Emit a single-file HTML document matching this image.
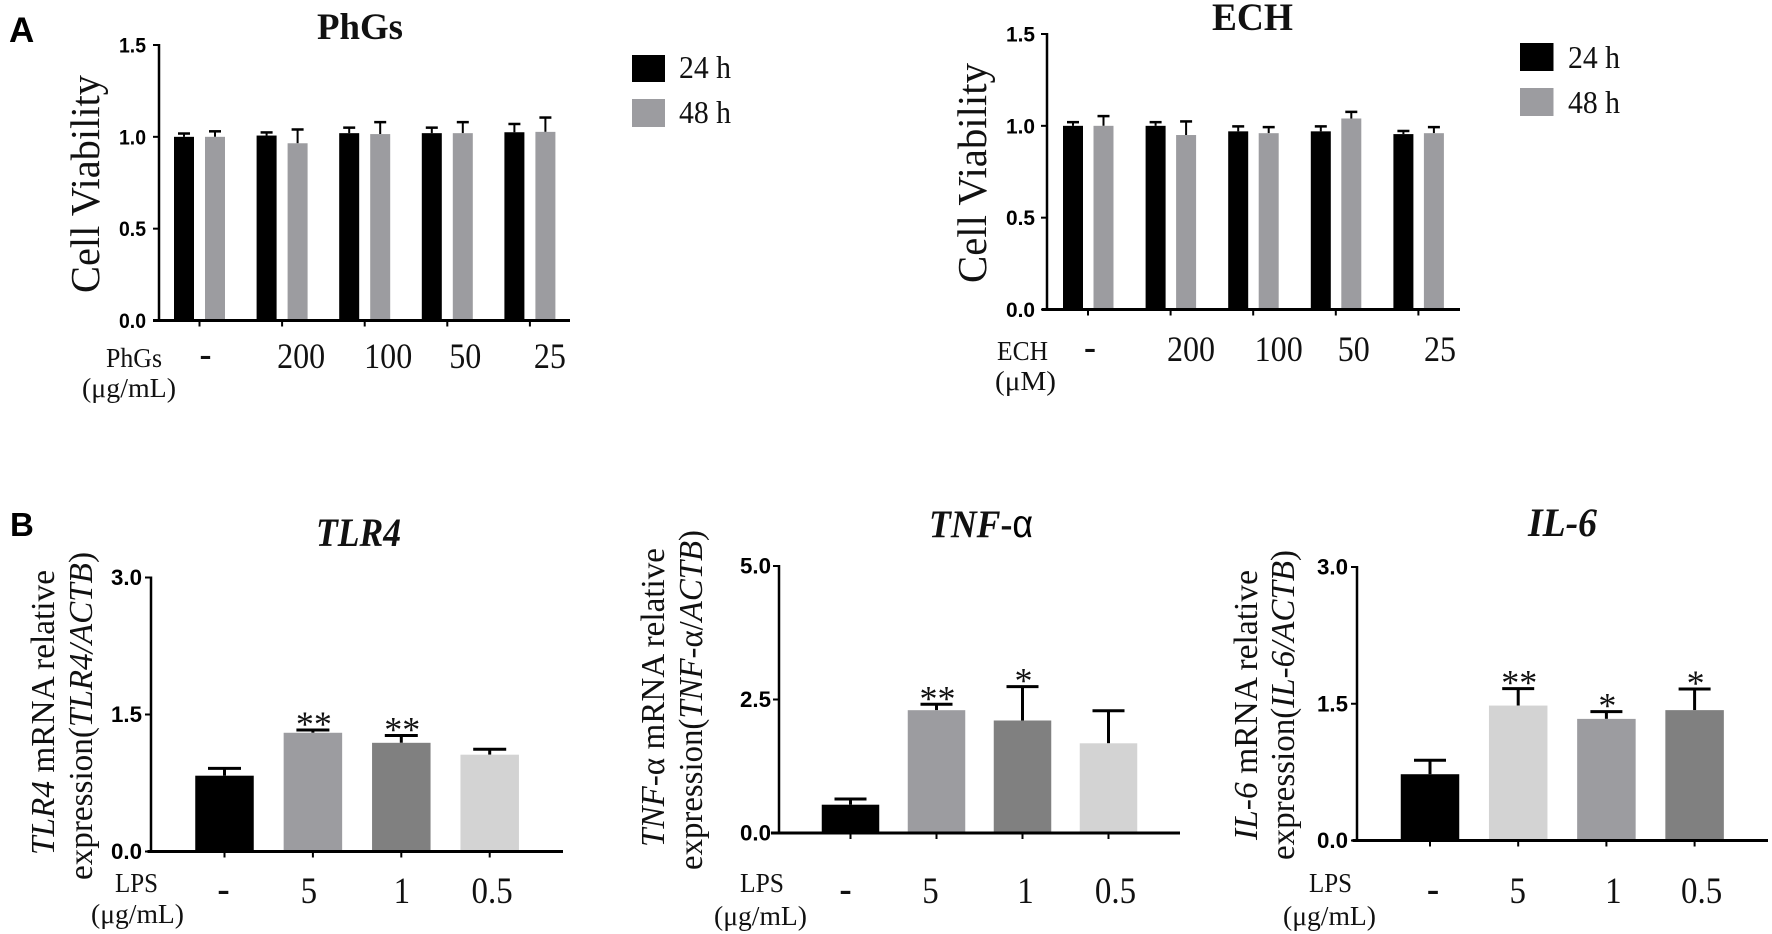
<!DOCTYPE html>
<html lang="en">
<head>
<meta charset="utf-8">
<title>Cell viability and mRNA expression charts</title>
<style>
html,body{margin:0;padding:0;background:#fff;width:1772px;height:934px;overflow:hidden}
svg{display:block}
.serif{font-family:"Liberation Serif","Noto Serif CJK SC",serif;fill:#111}
.sans{font-family:"Liberation Sans",sans-serif;fill:#000}
</style>
</head>
<body>
<svg id="figure" xmlns="http://www.w3.org/2000/svg" width="1772" height="934" viewBox="0 0 1772 934">
  <rect x="0" y="0" width="1772" height="934" fill="#fff"/>
  <text class="sans" x="9" y="42" font-size="35" font-weight="bold">A</text>
  <text class="sans" x="10" y="536" font-size="33" font-weight="bold">B</text>

  <text class="serif" x="317" y="39" font-size="37" font-weight="bold" textLength="86" lengthAdjust="spacingAndGlyphs">PhGs</text>
  <text class="serif" x="1212" y="30" font-size="39" font-weight="bold" textLength="81" lengthAdjust="spacingAndGlyphs">ECH</text>
  <text class="serif" x="316" y="546" font-size="40" font-weight="bold" font-style="italic" textLength="85" lengthAdjust="spacingAndGlyphs">TLR4</text>
  <text class="serif" x="929" y="537" font-size="39" font-weight="bold" textLength="104" lengthAdjust="spacingAndGlyphs"><tspan font-style="italic">TNF</tspan>-<tspan font-weight="normal" class="sans">α</tspan></text>
  <text class="serif" x="1528" y="536" font-size="40" font-weight="bold" font-style="italic" textLength="69" lengthAdjust="spacingAndGlyphs">IL-6</text>

  <text class="serif" transform="translate(99,293) rotate(-90)" font-size="41" textLength="218" lengthAdjust="spacingAndGlyphs">Cell Viability</text>
  <text class="serif" transform="translate(986,283) rotate(-90)" font-size="41" textLength="220" lengthAdjust="spacingAndGlyphs">Cell Viability</text>

  <text class="serif" transform="translate(54,855) rotate(-90)" font-size="34" textLength="285" lengthAdjust="spacingAndGlyphs"><tspan font-style="italic">TLR4</tspan> mRNA relative</text>
  <text class="serif" transform="translate(92,880) rotate(-90)" font-size="34" textLength="328" lengthAdjust="spacingAndGlyphs">expression(<tspan font-style="italic">TLR4/ACTB</tspan>)</text>
  <text class="serif" transform="translate(664,847) rotate(-90)" font-size="34" textLength="299" lengthAdjust="spacingAndGlyphs"><tspan font-style="italic">TNF</tspan>-α mRNA relative</text>
  <text class="serif" transform="translate(702,870) rotate(-90)" font-size="34" textLength="340" lengthAdjust="spacingAndGlyphs">expression(<tspan font-style="italic">TNF</tspan>-α/<tspan font-style="italic">ACTB</tspan>)</text>
  <text class="serif" transform="translate(1257,840) rotate(-90)" font-size="34" textLength="270" lengthAdjust="spacingAndGlyphs"><tspan font-style="italic">IL-6</tspan> mRNA relative</text>
  <text class="serif" transform="translate(1294,860) rotate(-90)" font-size="34" textLength="310" lengthAdjust="spacingAndGlyphs">expression(<tspan font-style="italic">IL-6/ACTB</tspan>)</text>

  <text class="serif" x="106" y="367" font-size="27" textLength="56" lengthAdjust="spacingAndGlyphs">PhGs</text>
  <text class="serif" x="82" y="397" font-size="27" textLength="94" lengthAdjust="spacingAndGlyphs">(μg/mL)</text>
  <text class="serif" x="997" y="360" font-size="27" textLength="51" lengthAdjust="spacingAndGlyphs">ECH</text>
  <text class="serif" x="995" y="390" font-size="27" textLength="61" lengthAdjust="spacingAndGlyphs">(μM)</text>
  <text class="serif" x="115" y="892" font-size="27" textLength="43" lengthAdjust="spacingAndGlyphs">LPS</text>
  <text class="serif" x="91" y="923" font-size="27" textLength="93" lengthAdjust="spacingAndGlyphs">(μg/mL)</text>
  <text class="serif" x="740" y="892" font-size="27" textLength="44" lengthAdjust="spacingAndGlyphs">LPS</text>
  <text class="serif" x="714" y="925" font-size="27" textLength="93" lengthAdjust="spacingAndGlyphs">(μg/mL)</text>
  <text class="serif" x="1309" y="892" font-size="27" textLength="43" lengthAdjust="spacingAndGlyphs">LPS</text>
  <text class="serif" x="1283" y="925" font-size="27" textLength="93" lengthAdjust="spacingAndGlyphs">(μg/mL)</text>

  <g>
    <rect x="632" y="55" width="33" height="27" fill="#000"/>
    <text class="serif" x="679" y="78" font-size="32" textLength="52" lengthAdjust="spacingAndGlyphs">24 h</text>
    <rect x="632" y="99" width="33" height="28" fill="#9c9ca0"/>
    <text class="serif" x="679" y="123" font-size="32" textLength="52" lengthAdjust="spacingAndGlyphs">48 h</text>
  </g>
  <g>
    <rect x="1520" y="43" width="33.5" height="28" fill="#000"/>
    <text class="serif" x="1568" y="68" font-size="32" textLength="52" lengthAdjust="spacingAndGlyphs">24 h</text>
    <rect x="1520" y="88" width="33.5" height="28" fill="#9c9ca0"/>
    <text class="serif" x="1568" y="113" font-size="32" textLength="52" lengthAdjust="spacingAndGlyphs">48 h</text>
  </g>
</svg>
<script>
// ---- Panel A: PhGs ----
const phgsCategories = ['-', '200', '100', '50', '25'];
const phgsMean24 = [1.00, 1.007, 1.02, 1.02, 1.025];
const phgsUpper24 = [1.018, 1.024, 1.05, 1.05, 1.07];
const phgsMean48 = [1.00, 0.965, 1.015, 1.02, 1.027];
const phgsUpper48 = [1.03, 1.04, 1.08, 1.08, 1.105];
const phgsTickValues = [0, 0.5, 1, 1.5];
const phgsTickLabels = ['0.0', '0.5', '1.0', '1.5'];

// ---- Panel A: ECH ----
const echCategories = ['-', '200', '100', '50', '25'];
const echMean24 = [1.00, 1.00, 0.97, 0.97, 0.955];
const echUpper24 = [1.02, 1.02, 0.997, 0.997, 0.972];
const echMean48 = [1.00, 0.95, 0.96, 1.04, 0.96];
const echUpper48 = [1.053, 1.024, 0.993, 1.076, 0.993];
const echTickValues = [0, 0.5, 1, 1.5];
const echTickLabels = ['0.0', '0.5', '1.0', '1.5'];

// ---- Panel B: TLR4 ----
const tlr4Categories = ['-', '5', '1', '0.5'];
const tlr4Mean = [0.83, 1.30, 1.19, 1.06];
const tlr4Upper = [0.91, 1.33, 1.27, 1.12];
const tlr4Stars = ['', '**', '**', ''];
const tlr4TickValues = [0, 1.5, 3];
const tlr4TickLabels = ['0.0', '1.5', '3.0'];

// ---- Panel B: TNF-alpha ----
const tnfCategories = ['-', '5', '1', '0.5'];
const tnfMean = [0.53, 2.30, 2.107, 1.68];
const tnfUpper = [0.636, 2.41, 2.74, 2.29];
const tnfStars = ['', '**', '*', ''];
const tnfTickValues = [0, 2.5, 5];
const tnfTickLabels = ['0.0', '2.5', '5.0'];

// ---- Panel B: IL-6 ----
const il6Categories = ['-', '5', '1', '0.5'];
const il6Mean = [0.727, 1.48, 1.334, 1.43];
const il6Upper = [0.88, 1.666, 1.414, 1.662];
const il6Stars = ['', '**', '*', '*'];
const il6TickValues = [0, 1.5, 3];
const il6TickLabels = ['0.0', '1.5', '3.0'];

const SVG_NS = 'http://www.w3.org/2000/svg';
const figure = document.getElementById('figure');

function makeNode(parent, tag, props) {
  const node = document.createElementNS(SVG_NS, tag);
  for (const key in props) node.setAttribute(key, props[key]);
  parent.appendChild(node);
  return node;
}

function makeYScale(cfg) {
  const top = cfg.tickValues[cfg.tickValues.length - 1];
  return function (value) { return cfg.y0 - (value / top) * (cfg.y0 - cfg.yTop); };
}

function makeXScale(cfg) {
  return function (index) { return cfg.firstTick + index * cfg.step; };
}

function drawBarsAndErrors(group, cfg, yScale, xScale, series) {
  series.forEach(function (s) {
    s.mean.forEach(function (value, i) {
      const cx = xScale(i) + s.offset;
      const topY = yScale(value);
      const upperY = yScale(s.upper[i]);
      const stem = makeNode(group, 'line', { x1: cx, x2: cx, y1: topY, y2: upperY, stroke: '#000', 'stroke-width': cfg.stemWidth });
      
      
      const cap = makeNode(group, 'line', { x1: cx - cfg.capWidth / 2, x2: cx + cfg.capWidth / 2, y1: upperY, y2: upperY, stroke: '#000', 'stroke-width': cfg.capThick });
      
      
      const color = Array.isArray(s.color) ? s.color[i] : s.color;
      const bar = makeNode(group, 'rect', { x: cx - cfg.barWidth / 2, y: topY, width: cfg.barWidth, height: cfg.y0 - topY, fill: color });
      
      
    });
  });
}

function drawAxes(group, cfg, yScale, xScale) {
  const yAxis = makeNode(group, 'line', { x1: cfg.axisX, x2: cfg.axisX, y1: cfg.yTop - 1, y2: cfg.y0, stroke: '#000', 'stroke-width': 2.5 });
  
  
  const xAxis = makeNode(group, 'line', { x1: cfg.xStart, x2: cfg.xEnd, y1: cfg.y0, y2: cfg.y0, stroke: '#000', 'stroke-width': 3 });
  
  

  cfg.tickValues.forEach(function (value, i) {
    const y = yScale(value);
    const tick = makeNode(group, 'line', { x1: cfg.axisX - 6, x2: cfg.axisX, y1: y, y2: y, stroke: '#000', 'stroke-width': 2 });
    
    
    const label = makeNode(group, 'text', { class: 'sans', x: cfg.tickRight - cfg.tickLabelWidth, y: y + 7.5, 'font-size': cfg.tickFont, 'font-weight': 'bold', textLength: cfg.tickLabelWidth, lengthAdjust: 'spacingAndGlyphs' });
    
    
    label.textContent = cfg.tickLabels[i];
  });

  cfg.categories.forEach(function (name, i) {
    const x = xScale(i);
    const tick = makeNode(group, 'line', { x1: x, x2: x, y1: cfg.y0, y2: cfg.y0 + 6, stroke: '#000', 'stroke-width': 2 });
    
    
    const isDash = name === '-';
    const label = makeNode(group, 'text', { class: 'serif', x: x + cfg.labelShift[i], y: cfg.labelY - (isDash ? 2 : 0), 'font-size': cfg.labelFont, 'font-weight': isDash ? 'bold' : 'normal', 'text-anchor': 'middle', lengthAdjust: 'spacingAndGlyphs' });
    
    
    label.textContent = name;
    if (!isDash) label.setAttribute('textLength', label.getComputedTextLength() * 0.89);
  });
}

function drawStars(group, cfg, yScale, xScale, upper, stars) {
  stars.forEach(function (mark, i) {
    if (!mark) return;
    const star = makeNode(group, 'text', { class: 'serif', x: xScale(i) + 1, y: yScale(upper[i]) + 6, 'font-size': 36, 'text-anchor': 'middle' });
    
    
    star.textContent = mark;
  });
}

function drawChart(cfg, series, stars, starUpper) {
  const group = makeNode(figure, 'g', {});
  
  
  const yScale = makeYScale(cfg);
  const xScale = makeXScale(cfg);
  drawBarsAndErrors(group, cfg, yScale, xScale, series);
  drawAxes(group, cfg, yScale, xScale);
  if (stars) drawStars(group, cfg, yScale, xScale, starUpper, stars);
}

const GREY = '#9c9ca0', DARK = '#808080', LIGHT = '#d3d3d3';

drawChart({ id: 'phgs', categories: phgsCategories, tickValues: phgsTickValues, tickLabels: phgsTickLabels,
  y0: 320.5, yTop: 45, axisX: 159, xStart: 153, xEnd: 570, firstTick: 199.5, step: 82.6,
  barWidth: 20, capWidth: 12, capThick: 2.5, stemWidth: 2, tickRight: 146, tickLabelWidth: 27, tickFont: 21,
  labelY: 368, labelFont: 36, labelShift: [6, 19, 23.5, 18, 20] },
  [{ name: '24h', mean: phgsMean24, upper: phgsUpper24, offset: -15.5, color: '#000' },
   { name: '48h', mean: phgsMean48, upper: phgsUpper48, offset: 15.5, color: GREY }]);

drawChart({ id: 'ech', categories: echCategories, tickValues: echTickValues, tickLabels: echTickLabels,
  y0: 309.5, yTop: 34, axisX: 1047, xStart: 1042, xEnd: 1460, firstTick: 1088, step: 82.6,
  barWidth: 20, capWidth: 12, capThick: 2.5, stemWidth: 2, tickRight: 1035, tickLabelWidth: 29, tickFont: 21,
  labelY: 361, labelFont: 36, labelShift: [2, 20.4, 25.5, 18, 21.6] },
  [{ name: '24h', mean: echMean24, upper: echUpper24, offset: -15, color: '#000' },
   { name: '48h', mean: echMean48, upper: echUpper48, offset: 15.5, color: GREY }]);

drawChart({ id: 'tlr4', categories: tlr4Categories, tickValues: tlr4TickValues, tickLabels: tlr4TickLabels,
  y0: 851.5, yTop: 577.5, axisX: 151, xStart: 147.5, xEnd: 563, firstTick: 224.5, step: 88.4,
  barWidth: 58.5, capWidth: 33, capThick: 3, stemWidth: 3, tickRight: 142, tickLabelWidth: 31, tickFont: 22,
  labelY: 903, labelFont: 37, labelShift: [-1, -4, 0.5, 2.4] },
  [{ name: 'lps', mean: tlr4Mean, upper: tlr4Upper, offset: 0, color: ['#000', GREY, DARK, LIGHT] }],
  tlr4Stars, tlr4Upper);

drawChart({ id: 'tnf', categories: tnfCategories, tickValues: tnfTickValues, tickLabels: tnfTickLabels,
  y0: 833, yTop: 566, axisX: 779, xStart: 771, xEnd: 1180, firstTick: 850.5, step: 86,
  barWidth: 57.5, capWidth: 32, capThick: 3, stemWidth: 3, tickRight: 771, tickLabelWidth: 31, tickFont: 22,
  labelY: 903, labelFont: 37, labelShift: [-5, -6, 3, 7] },
  [{ name: 'lps', mean: tnfMean, upper: tnfUpper, offset: 0, color: ['#000', GREY, DARK, LIGHT] }],
  tnfStars, tnfUpper);

drawChart({ id: 'il6', categories: il6Categories, tickValues: il6TickValues, tickLabels: il6TickLabels,
  y0: 840.5, yTop: 567, axisX: 1357, xStart: 1352.5, xEnd: 1768, firstTick: 1430, step: 88.2,
  barWidth: 58.5, capWidth: 32, capThick: 3, stemWidth: 3, tickRight: 1348, tickLabelWidth: 31, tickFont: 22,
  labelY: 903, labelFont: 37, labelShift: [3, -0.5, 7, 7] },
  [{ name: 'lps', mean: il6Mean, upper: il6Upper, offset: 0, color: ['#000', LIGHT, GREY, DARK] }],
  il6Stars, il6Upper);
</script>
</body>
</html>
